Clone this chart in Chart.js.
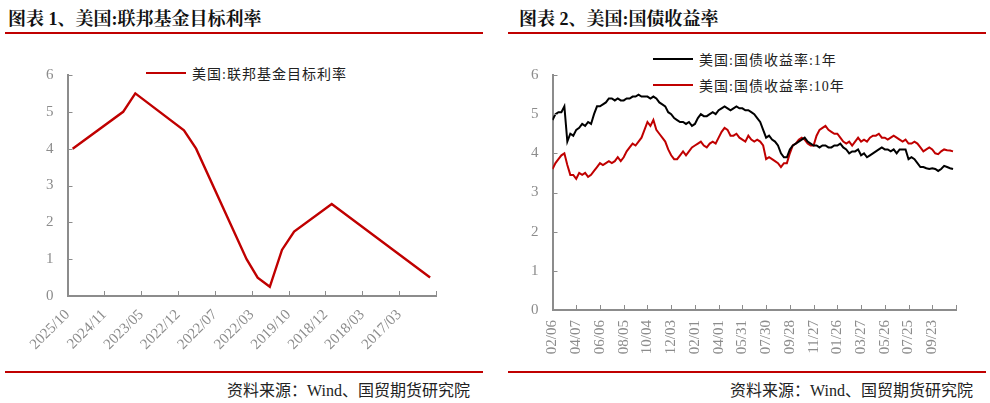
<!DOCTYPE html>
<html><head><meta charset="utf-8">
<script src="https://cdn.jsdelivr.net/npm/chart.js@4"></script>
<style>
body{margin:0;width:990px;height:403px;background:#fff;position:relative;overflow:hidden;font-family:"Liberation Serif","Noto Sans CJK SC",serif}
.t{position:absolute;top:4px;font-weight:bold;font-size:18px;color:#111;font-family:"Liberation Serif","Noto Serif CJK SC","Noto Sans CJK SC",serif}
.rl{position:absolute;height:2px;background:#c00000}
.src{position:absolute;top:377px;font-size:16px;color:#222;text-align:right;width:400px}
.lg{position:absolute;font-size:14px;color:#222;display:flex;align-items:center;letter-spacing:1px}
.lg span{display:inline-block;width:40px;height:2px;margin-right:6px}
.c{position:absolute}
</style></head><body>
<div class="t" style="left:8px">图表 1、美国:联邦基金目标利率</div>
<div class="t" style="left:519px">图表 2、美国:国债收益率</div>
<div class="rl" style="left:5px;width:478px;top:32px"></div>
<div class="rl" style="left:508px;width:478px;top:32px"></div>
<div class="rl" style="left:5px;width:478px;top:371px"></div>
<div class="rl" style="left:508px;width:478px;top:371px"></div>
<div class="src" style="left:70px">资料来源：Wind、国贸期货研究院</div>
<div class="src" style="left:573px">资料来源：Wind、国贸期货研究院</div>
<div class="lg" style="left:146px;top:63px"><span style="background:#c00000"></span>美国:联邦基金目标利率</div>
<div class="lg" style="left:653px;top:49px"><span style="background:#000"></span>美国:国债收益率:1年</div>
<div class="lg" style="left:653px;top:75px"><span style="background:#c00000"></span>美国:国债收益率:10年</div>
<div class="c" style="left:0;top:60px;width:482px;height:310px"><canvas id="c1"></canvas></div>
<div class="c" style="left:500px;top:60px;width:490px;height:310px"><canvas id="c2"></canvas></div>
<script>
const fedLabels=["2025/10","2024/11","2023/05","2022/12","2022/07","2022/03","2019/10","2018/12","2018/03","2017/03"];
const fedX=[0.14,1.51,1.84,3.16,3.49,4.86,5.16,5.49,5.82,6.15,7.17,9.84];
const fedRate=[4,5,5.5,4.5,4,1,0.5,0.25,1.25,1.75,2.5,0.5];
const yldLabels=["02/06","04/07","06/06","08/05","10/04","12/03","02/01","04/01","05/31","07/30","09/28","11/27","01/26","03/27","05/26","07/25","09/23"];
const y1=[4.85,5.0,5.05,5.05,5.2,4.3,4.5,4.45, 4.6,4.65,4.75,4.7,4.8,4.75,5.0,5.2, 5.2,5.25,5.3,5.4,5.4,5.35,5.4,5.35, 5.35,5.4,5.4,5.45,5.45,5.5,5.45,5.45,
5.45,5.4,5.45,5.4,5.3,5.25,5.2,5.05, 5.0,4.9,4.85,4.8,4.8,4.75,4.8,4.7, 4.75,4.9,5.0,4.95,4.95,5.0,5.05,5.0, 5.1,5.15,5.2,5.15,5.1,5.15,5.2,5.15,
5.15,5.1,5.1,5.05,5.0,4.9,4.8,4.6, 4.4,4.45,4.35,4.3,4.2,4.0,3.9,3.9, 4.1,4.2,4.25,4.3,4.35,4.4,4.3,4.25, 4.2,4.2,4.15,4.2,4.2,4.15,4.15,4.2,
4.2,4.25,4.15,4.1,4.0,4.05,4.05,4.1, 3.95,4.0,3.9,3.95,4.0,4.05,4.1,4.15, 4.1,4.1,4.05,4.1,4.0,4.1,4.1,4.1, 3.85,3.9,3.85,3.75,3.65,3.65,3.62,3.6,
3.62,3.6,3.55,3.6,3.68,3.65,3.62,3.6];
const y10=[3.6,3.75,3.85,3.95,4.0,3.7,3.45,3.45, 3.35,3.5,3.45,3.5,3.4,3.45,3.55,3.65, 3.75,3.7,3.75,3.8,3.75,3.8,3.9,3.8, 3.9,4.05,4.15,4.25,4.2,4.3,4.4,4.6,
4.8,4.7,4.85,4.6,4.5,4.4,4.3,4.1, 3.95,3.85,3.85,3.95,4.05,3.95,4.05,4.15, 4.2,4.25,4.3,4.2,4.15,4.25,4.3,4.25, 4.4,4.55,4.65,4.6,4.45,4.45,4.5,4.4,
4.35,4.3,4.45,4.35,4.3,4.35,4.3,4.2, 3.85,3.9,3.85,3.8,3.75,3.65,3.75,3.75, 4.0,4.2,4.25,4.35,4.4,4.35,4.25,4.2, 4.2,4.45,4.6,4.65,4.7,4.6,4.55,4.5,
4.5,4.4,4.3,4.25,4.3,4.2,4.3,4.4, 4.3,4.35,4.3,4.4,4.45,4.45,4.5,4.4, 4.4,4.35,4.4,4.45,4.4,4.35,4.3,4.35, 4.25,4.25,4.3,4.25,4.15,4.05,4.1,4.15,
4.1,4.0,3.98,4.05,4.1,4.08,4.07,4.05];
const PER=8;
const gray='#8c8c8c';
const innerTicks={id:'innerTicks',afterDraw(ch){const c=ch.ctx,a=ch.chartArea,x=ch.scales.x,y=ch.scales.y;c.save();c.strokeStyle=gray;c.lineWidth=1;c.beginPath();
x.ticks.forEach((t,i)=>{const p=Math.round(x.getPixelForTick(i))+0.5;c.moveTo(p,a.bottom);c.lineTo(p,a.bottom-5);});
y.ticks.forEach((t,i)=>{const p=Math.round(y.getPixelForTick(i))+0.5;c.moveTo(a.left,p);c.lineTo(a.left+5,p);});c.stroke();c.restore();}};
function axes(xcfg,h){return{
 x:Object.assign({type:'linear',grid:{display:false},border:{color:gray,width:2},afterFit(s){s.height=h;}},xcfg),
 y:{min:0,max:6,grid:{display:false},border:{color:gray,width:2},ticks:{stepSize:1,color:gray,font:{family:'Liberation Serif',size:15},padding:6}}};}
const common={responsive:true,maintainAspectRatio:false,animation:false,plugins:{legend:{display:false},tooltip:{enabled:false}}};
const s1=axes({min:0,max:10,ticks:{stepSize:1,color:gray,font:{family:'Liberation Serif',size:15},maxRotation:45,minRotation:45,autoSkip:false,padding:2,callback:v=>fedLabels[v]||''}},74);
new Chart(document.getElementById('c1'),{type:'line',data:{datasets:[{data:fedX.map((x,i)=>({x,y:fedRate[i]})),borderColor:'#c00000',borderWidth:2.4,pointRadius:0,tension:0}]},
 options:Object.assign({},common,{layout:{padding:{left:40,right:46,top:14,bottom:0}},scales:s1}),plugins:[innerTicks]});
const s2=axes({min:0,max:yldLabels.length*PER,ticks:{stepSize:PER,color:gray,font:{family:'Liberation Serif',size:15},maxRotation:90,minRotation:90,autoSkip:false,padding:2,callback:v=>yldLabels[v/PER]||''}},60);
new Chart(document.getElementById('c2'),{type:'line',data:{datasets:[
 {data:y1.map((v,i)=>({x:i,y:v})),borderColor:'#000',borderWidth:2,pointRadius:0},
 {data:y10.map((v,i)=>({x:i,y:v})),borderColor:'#c00000',borderWidth:2,pointRadius:0}]},
 options:Object.assign({},common,{layout:{padding:{left:25,right:34,top:15,bottom:0}},scales:s2}),plugins:[innerTicks]});
</script></body></html>
